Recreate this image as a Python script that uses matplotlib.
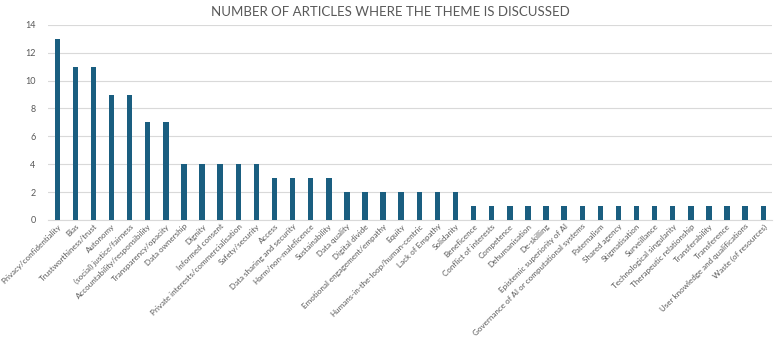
import matplotlib.pyplot as plt

plt.rcParams['font.family'] = ['Lato', 'DejaVu Sans']

# Themes and how many articles discuss each one
themes = [
    'Privacy/confidentiality', 'Bias', 'Trustworthiness/trust', 'Autonomy',
    '(social) justice/fairness', 'Accountability/responsibility',
    'Transparency/opacity', 'Data ownership', 'Dignity', 'Informed consent',
    'Private interests/commercialisation', 'Safety/security', 'Access',
    'Data sharing and security', 'Harm/non-maleficence', 'Sustainability',
    'Data quality', 'Digital divide', 'Emotional engagement/empathy', 'Equity',
    'Humans-in-the-loop/human-centric', 'Lack of Empathy', 'Solidarity',
    'Beneficence', 'Conflict of interests', 'Competence', 'Dehumanisation',
    'De-skilling', 'Epistemic superiority of AI',
    'Governance of AI or computational systems', 'Paternalism',
    'Shared agency', 'Stigmatisation', 'Surveillance',
    'Technological singularity', 'Therapeutic relationship',
    'Transferability', 'Transference', 'User knowledge and qualifications',
    'Waste (of resources)',
]
counts = [13, 11, 11, 9, 9, 7, 7, 4, 4, 4, 4, 4, 3, 3, 3, 3,
          2, 2, 2, 2, 2, 2, 2,
          1, 1, 1, 1, 1, 1, 1, 1, 1, 1, 1, 1, 1, 1, 1, 1, 1]
yticks = [0, 2, 4, 6, 8, 10, 12, 14]

fig = plt.figure(figsize=(7.77, 3.41), dpi=100)
ax = fig.add_axes([0.062, 0.355, 0.932, 0.572])

x = range(len(themes))
ax.bar(x, counts, width=0.3, color='#1a5e80', zorder=3)

ax.set_xlim(-0.5, len(themes) - 0.5)
ax.set_ylim(0, 14)
ax.set_yticks(yticks)
ax.yaxis.grid(True, color='#d9d9d9', linewidth=0.8, zorder=0)
ax.set_xticks(list(x))
ax.set_xticklabels(themes, rotation=45, ha='right', rotation_mode='anchor',
                   fontsize=5.8, color='#595959')
ax.tick_params(axis='y', labelsize=6.5, labelcolor='#595959', length=0, pad=9)
ax.tick_params(axis='x', length=0, pad=2)
for s in ['top', 'right', 'left']:
    ax.spines[s].set_visible(False)
ax.spines['bottom'].set_color('#d9d9d9')

fig.text(0.502, 0.965, 'NUMBER OF ARTICLES WHERE THE THEME IS DISCUSSED',
         ha='center', va='center', fontsize=9.5, color='#595959')

plt.savefig('out.png', dpi=100)
